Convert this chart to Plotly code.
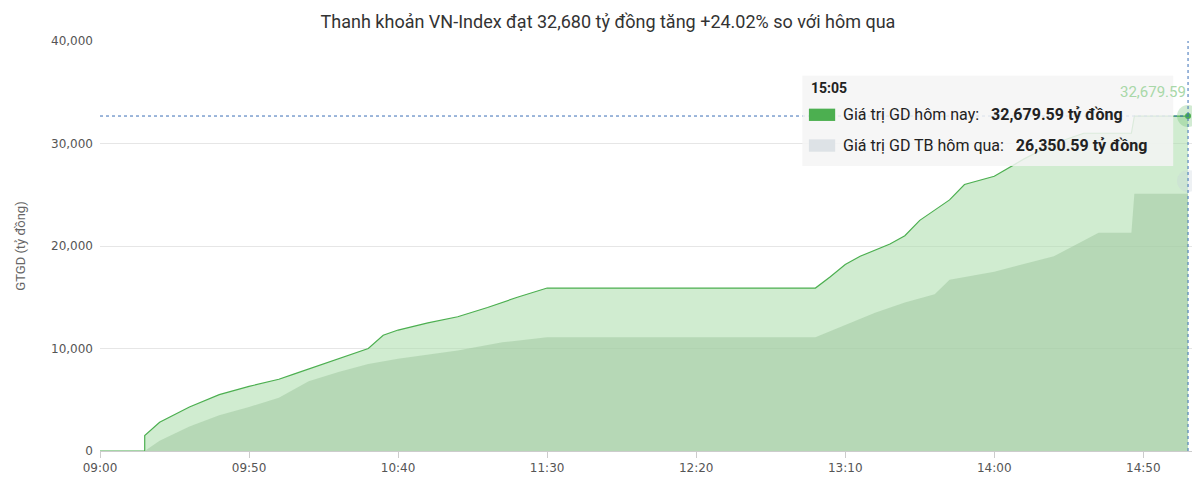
import plotly.graph_objects as go

def m(t):
    h, mm = t.split(":")
    return (int(h) - 9) * 60 + int(mm)

today_t = ["09:00","09:15","09:15","09:20","09:30","09:40","09:50","10:00","10:05","10:10","10:20","10:30","10:35","10:40","10:50","11:00","11:10","11:20","11:30","13:00","13:05","13:10","13:15","13:25","13:30","13:35","13:40","13:45","13:50","14:00","14:10","14:20","14:30","14:46","14:47","15:05"]
today_v = [0,0,1500,2800,4300,5500,6300,7000,7500,8000,9000,10000,11300,11800,12500,13100,14000,15000,15900,15900,17000,18200,19000,20200,21000,22500,23500,24500,26000,26800,28500,30000,31000,31000,32680,32679.59]
yest_t = ["09:15","09:20","09:30","09:40","09:50","10:00","10:10","10:20","10:30","10:40","11:00","11:15","11:30","13:00","13:10","13:20","13:30","13:40","13:45","14:00","14:20","14:30","14:35","14:46","14:47","15:05"]
yest_v = [0,1000,2400,3500,4300,5200,6800,7700,8500,9000,9800,10600,11100,11100,12300,13500,14500,15300,16700,17500,19000,20500,21300,21300,25100,25100]
tick_labels = ["09:00","09:50","10:40","11:30","12:20","13:10","14:00","14:50"]
y_ticks = [0,10000,20000,30000,40000]

fig = go.Figure()
fig.add_trace(go.Scatter(x=[m(t) for t in today_t], y=today_v, mode="lines", fill="tozeroy",
    line=dict(color="#4caf50", width=1.2), fillcolor="rgba(170,220,170,0.55)", name="Giá trị GD hôm nay"))
fig.add_trace(go.Scatter(x=[m(t) for t in yest_t], y=yest_v, mode="lines", fill="tozeroy",
    line=dict(width=0, color="rgba(0,0,0,0)"), fillcolor="rgba(160,200,160,0.55)", name="Giá trị GD TB hôm qua"))
end_x = m("15:05")
fig.add_trace(go.Scatter(x=[end_x], y=[32679.59], mode="markers", marker=dict(size=22, color="rgba(76,175,80,0.25)"), hoverinfo="skip"))
fig.add_trace(go.Scatter(x=[end_x], y=[32679.59], mode="markers", marker=dict(size=6, color="#4caf50"), hoverinfo="skip"))
fig.add_trace(go.Scatter(x=[end_x], y=[26350.59], mode="markers", marker=dict(size=22, color="rgba(200,210,220,0.3)"), hoverinfo="skip"))

fig.add_hline(y=32679.59, line=dict(color="#3b6fb6", width=1, dash="dot"))
fig.add_vline(x=end_x, line=dict(color="#3b6fb6", width=1, dash="dot"))

fig.add_shape(type="rect", xref="paper", yref="paper", x0=0.642, x1=0.981, y0=0.695, y1=0.915,
    fillcolor="rgba(245,245,245,0.85)", line=dict(width=0))
fig.add_annotation(xref="paper", yref="paper", x=0.648, y=0.885, xanchor="left", yanchor="middle", showarrow=False,
    text="<b>15:05</b>", font=dict(size=14, color="#222", family="Roboto"))
fig.add_shape(type="rect", xref="paper", yref="paper", x0=0.648, x1=0.672, y0=0.805, y1=0.835, fillcolor="#4caf50", line=dict(width=0))
fig.add_shape(type="rect", xref="paper", yref="paper", x0=0.648, x1=0.672, y0=0.73, y1=0.76, fillcolor="#dde2e6", line=dict(width=0))
fig.add_annotation(xref="paper", yref="paper", x=0.677, y=0.82, xanchor="left", yanchor="middle", showarrow=False,
    text="Giá trị GD hôm nay:   <b>32,679.59 tỷ đồng</b>", font=dict(size=16, color="#222", family="Roboto"))
fig.add_annotation(xref="paper", yref="paper", x=0.677, y=0.745, xanchor="left", yanchor="middle", showarrow=False,
    text="Giá trị GD TB hôm qua:   <b>26,350.59 tỷ đồng</b>", font=dict(size=16, color="#222", family="Roboto"))
fig.add_annotation(x=end_x, y=32679.59, yshift=24, xanchor="right", showarrow=False,
    text="32,679.59", font=dict(size=15, color="#a8d8a8", family="Roboto"))

fig.update_layout(
    width=1200, height=481, plot_bgcolor="white", paper_bgcolor="white", showlegend=False,
    margin=dict(l=82, r=14, t=33, b=38),
    title=dict(text="Thanh khoản VN-Index đạt 32,680 tỷ đồng tăng +24.02% so với hôm qua", x=0.5, y=0.985, yanchor="top",
               font=dict(size=18, color="#333", family="Roboto")),
    xaxis=dict(range=[0, 367], tickvals=[m(t) for t in tick_labels], ticktext=tick_labels, showgrid=False,
               ticks="outside", ticklen=6, tickcolor="#ccc", showline=True, linecolor="#ccc",
               tickfont=dict(size=12, color="#555", family="DejaVu Sans"), zeroline=False),
    yaxis=dict(range=[0, 40000], tickvals=y_ticks, tickformat=",", gridcolor="#e6e6e6", zeroline=False,
               tickfont=dict(size=12, color="#555", family="DejaVu Sans"), ticklabelstandoff=6,
               title=dict(text="GTGD (tỷ đồng)", font=dict(size=13, color="#666", family="Roboto"), standoff=22)),
    hovermode=False,
)
fig.write_html("out.html")
